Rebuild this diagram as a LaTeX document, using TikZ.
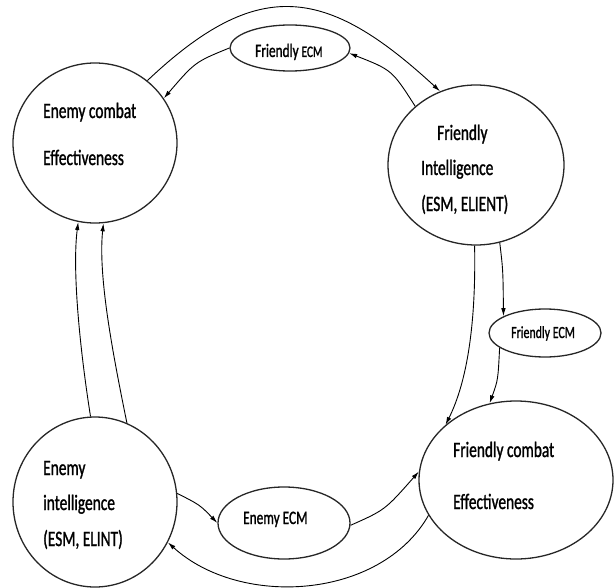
\documentclass[tikz,border=0pt]{standalone}
\usepackage{fontspec}
\newfontfamily\lab[FakeStretch=0.7,FakeBold=1.2]{Carlito}
\usetikzlibrary{shapes.geometric,arrows.meta}
\tikzset{
  blob/.style={ellipse,draw=black!85,line width=1.3pt,inner sep=0pt,fill=none},
  big/.style={anchor=base west,inner sep=0pt,font=\lab\fontsize{22}{26}\selectfont},
  mid/.style={anchor=base west,inner sep=0pt,font=\lab\fontsize{19}{22}\selectfont},
  sml/.style={anchor=base west,inner sep=0pt,font=\lab\fontsize{17}{20}\selectfont},
  conn/.style={line width=0.9pt,-{Latex[length=8pt,width=4.5pt]}},
}
\begin{document}
\begin{tikzpicture}[x=1pt,y=-1pt]
\useasboundingbox (0,0) rectangle (615,588);
% shapes
\node[blob,minimum width=164pt,minimum height=160pt] (ec) at (95,143) {};
\node[blob,minimum width=176pt,minimum height=160pt] (fi) at (476,165) {};
\node[blob,minimum width=120pt,minimum height=46pt] (fe1) at (290,48) {};
\node[blob,minimum width=112pt,minimum height=48pt] (fe2) at (545,333) {};
\node[blob,minimum width=194pt,minimum height=158pt] (fc) at (516,480) {};
\node[blob,minimum width=164pt,minimum height=170pt] (ei) at (95,502) {};
\node[blob,minimum width=132pt,minimum height=72pt] (ee) at (284,523) {};
% texts
\node[big] (t1) at (43,118) {Enemy combat};
\node[big] (t2) at (43,165) {Effectiveness};
\node[big] (t3) at (437,140) {Friendly};
\node[big] (t4) at (421,175) {Intelligence};
\node[big] (t5) at (421,211) {(ESM, ELIENT)};
\node[big] (t6) at (453,457) {Friendly combat};
\node[big] (t7) at (453,509) {Effectiveness};
\node[big] (t8) at (43,475) {Enemy};
\node[big] (t9) at (43,510) {intelligence};
\node[big] (t10) at (43,546) {(ESM, ELINT)};
\node[mid] (t11) at (243,524) {Enemy ECM};
\node[anchor=base west,inner sep=0pt] (t12) at (255,57) {\lab\fontsize{19}{22}\selectfont Friendly {\fontsize{16}{20}\selectfont ECM}};
\node[sml] (t13) at (511,338) {Friendly ECM};
% connectors
\draw[conn] (ec.50) .. controls (258,-24) and (326,-14) .. (fi.116);
\draw[conn] (fi.136) .. controls (392,70) .. (fe1.-5);
\draw[conn] (fe1.180) .. controls (195,62) .. (ec.33);
\draw[conn] (fi.-91) .. controls (476,320) and (468,380) .. (fc.142);
\draw[conn] (fi.-73) .. controls (503,270) .. (fe2.158);
\draw[conn] (fe2.198) .. controls (498,380) .. (fc.109);
\draw[conn] (ei.93) .. controls (80,350) and (72,270) .. (ec.-102);
\draw[conn] (ei.68) .. controls (112,350) and (98,275) .. (ec.-84);
\draw[conn] (ei.6) .. controls (200,505) .. (ee.180);
\draw[conn] (ee.-2) .. controls (385,510) .. (fc.175);
\draw[conn] (fc.202) .. controls (380,600) and (240,608) .. (ei.-29);
\end{tikzpicture}
\end{document}
